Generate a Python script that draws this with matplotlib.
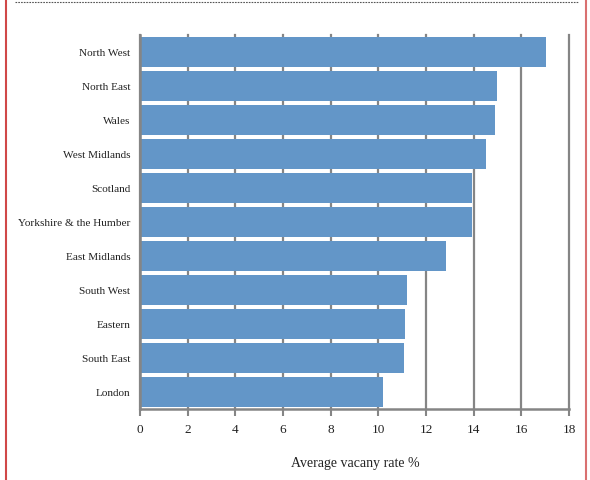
import matplotlib.pyplot as plt
from matplotlib.lines import Line2D

regions = ['North West', 'North East', 'Wales', 'West Midlands', 'Scotland',
           'Yorkshire & the Humber', 'East Midlands', 'South West', 'Eastern',
           'South East', 'London']
vacancy = [17.03, 14.97, 14.89, 14.5, 13.92, 13.92, 12.83, 11.19, 11.1, 11.06, 10.18]
xticks = [0, 2, 4, 6, 8, 10, 12, 14, 16, 18]

plt.rcParams['font.family'] = ['Liberation Serif', 'DejaVu Serif']
text_col = '#222222'
grid_col = '#858585'

fig = plt.figure(figsize=(5.9, 4.8), dpi=100)
ax = fig.add_axes([140 / 590, 1 - 409 / 480, 429 / 590, 374 / 480])

ypos = list(range(len(regions)))
ax.barh(ypos, vacancy, height=0.91, color='#6396c8', zorder=2)

ax.set_xlim(0, 18)
ax.set_ylim(len(regions) - 0.5, -0.5)
ax.set_yticks(ypos)
ax.set_yticklabels(regions, fontsize=8.1, color=text_col)
ax.set_xticks(xticks)
ax.set_xticklabels([str(t) for t in xticks], fontsize=9.5, color=text_col)
ax.tick_params(axis='y', length=0, pad=7)
ax.tick_params(axis='x', length=5, width=1.5, color=grid_col, pad=6, direction='out')

ax.grid(axis='x', color=grid_col, linewidth=1.6, zorder=1)
ax.set_axisbelow(True)
for gl in ax.get_xgridlines():
    gl.set_clip_on(False)
for side in ['top', 'right']:
    ax.spines[side].set_visible(False)
for side in ['left', 'bottom']:
    ax.spines[side].set_color(grid_col)
    ax.spines[side].set_linewidth(1.8)
    ax.spines[side].set_zorder(3)

fig.text(355 / 590, 1 - 463 / 480, 'Average vacany rate %', ha='center', va='center',
         fontsize=10, color=text_col)

# frame decorations
fig.add_artist(Line2D([6 / 590, 6 / 590], [0, 1], color='#d04848', linewidth=1.5))
fig.add_artist(Line2D([586 / 590, 586 / 590], [0, 1], color='#d97070', linewidth=1.5))
fig.add_artist(Line2D([15 / 590, 578 / 590], [1 - 2 / 480, 1 - 2 / 480], color='#555555',
                      linewidth=0.8, linestyle=(0, (1.5, 1))))

fig.savefig('out.png', dpi=100)
